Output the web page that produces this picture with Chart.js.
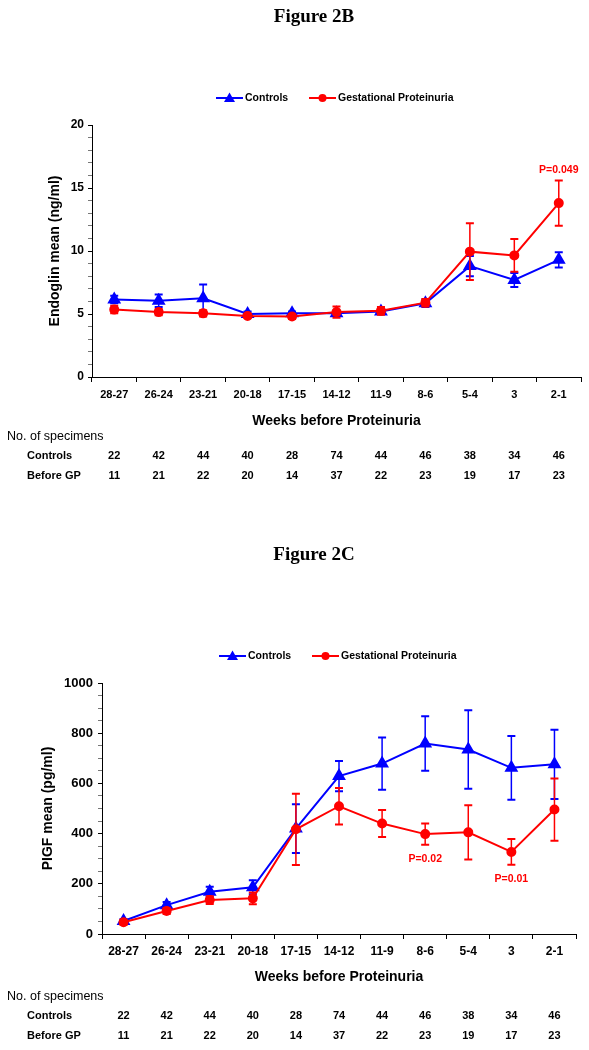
<!DOCTYPE html>
<html>
<head>
<meta charset="utf-8">
<script src="https://cdn.jsdelivr.net/npm/chart.js@4.4.0/dist/chart.umd.min.js"></script>
<style>
    html, body { margin: 0; padding: 0; background: #fff; }
    body { width: 589px; height: 1050px; position: relative; overflow: hidden; }
    .wrap { position: absolute; left: 0; width: 589px; }
    #wrap-b { top: 0; height: 500px; }
    #wrap-c { top: 500px; height: 550px; }
</style>
</head>
<body>
<div class="wrap" id="wrap-b"><canvas id="chart-2b"></canvas></div>
<div class="wrap" id="wrap-c"><canvas id="chart-2c"></canvas></div>
<script>
const weekLabels = ['28-27', '26-24', '23-21', '20-18', '17-15', '14-12', '11-9', '8-6', '5-4', '3', '2-1'];
const controlCounts = [22, 42, 44, 40, 28, 74, 44, 46, 38, 34, 46];
const gpCounts = [11, 21, 22, 20, 14, 37, 22, 23, 19, 17, 23];

// Figure 2B - endoglin (ng/ml), mean and error half-width
const endoglinControls = [6.15, 6.05, 6.25, 5.0, 5.05, 5.05, 5.2, 5.85, 8.8, 7.7, 9.3];
const endoglinControlsErr = [0.3, 0.5, 1.1, 0.2, 0.15, 0.2, 0.2, 0.3, 0.8, 0.55, 0.6];
const endoglinGP = [5.35, 5.15, 5.05, 4.85, 4.8, 5.15, 5.25, 5.9, 9.95, 9.65, 13.8];
const endoglinGPErr = [0.3, 0.25, 0.25, 0.15, 0.2, 0.45, 0.3, 0.3, 2.25, 1.3, 1.8];
const endoglinNotes = [{ index: 10, text: 'P=0.049', above: true }];

// Figure 2C - PlGF (pg/ml)
const plgfControls = [52, 115, 168, 186, 420, 629, 679, 759, 735, 662, 676];
const plgfControlsErr = [8, 12, 20, 28, 97, 60, 104, 109, 156, 127, 138];
const plgfGP = [47, 92, 135, 142, 417, 509, 440, 398, 405, 327, 496];
const plgfGPErr = [10, 12, 15, 23, 142, 73, 54, 42, 108, 51, 124];
const plgfNotes = [{ index: 7, text: 'P=0.02', above: false }, { index: 9, text: 'P=0.01', above: false }];

const SANS = "'Liberation Sans', Arial, sans-serif";
const SERIF = "'Liberation Serif', 'Times New Roman', serif";
const BLUE = '#0000ff';
const RED = '#ff0000';

const errorBars = {
    id: 'errorBars',
    beforeDatasetDraw(chart, args) {
        const ds = chart.data.datasets[args.index];
        if (!ds.errors) return;
        const { ctx, scales: { x, y } } = chart;
        ctx.save();
        ctx.strokeStyle = ds.borderColor;
        ds.data.forEach((v, i) => {
            const px = x.getPixelForValue(i);
            const top = y.getPixelForValue(v + ds.errors[i]);
            const bot = y.getPixelForValue(v - ds.errors[i]);
            ctx.lineWidth = 1.5;
            ctx.beginPath();
            ctx.moveTo(px, top);
            ctx.lineTo(px, bot);
            ctx.stroke();
            ctx.lineWidth = 2;
            ctx.beginPath();
            ctx.moveTo(px - 4, top); ctx.lineTo(px + 4, top);
            ctx.moveTo(px - 4, bot); ctx.lineTo(px + 4, bot);
            ctx.stroke();
        });
        ctx.restore();
    }
};

function drawMarker(ctx, style, cx, cy, color) {
    ctx.fillStyle = color;
    ctx.beginPath();
    if (style === 'triangle') {
        ctx.moveTo(cx, cy - 5.5);
        ctx.lineTo(cx + 5.5, cy + 4);
        ctx.lineTo(cx - 5.5, cy + 4);
        ctx.closePath();
    } else {
        ctx.arc(cx, cy, 4, 0, Math.PI * 2);
    }
    ctx.fill();
}

function extrasPlugin(cfg) {
    return {
        id: 'extras',
        afterDraw(chart) {
            const { ctx, scales: { x, y } } = chart;
            ctx.save();
            ctx.fillStyle = '#000';
            ctx.textAlign = 'center';
            ctx.textBaseline = 'middle';

            ctx.font = `bold 19px ${SERIF}`;
            ctx.fillText(cfg.title, 314, cfg.titleY);

            // legend: line + marker + label
            const lx = cfg.legendX;
            const ly = cfg.legendY;
            [[lx, 'triangle', BLUE, 'Controls'], [lx + 93, 'circle', RED, 'Gestational Proteinuria']].forEach(([sx, style, color, label]) => {
                ctx.strokeStyle = color;
                ctx.lineWidth = 2;
                ctx.beginPath();
                ctx.moveTo(sx, ly);
                ctx.lineTo(sx + 27, ly);
                ctx.stroke();
                drawMarker(ctx, style, sx + 13.5, ly, color);
                ctx.fillStyle = '#000';
                ctx.textAlign = 'left';
                ctx.font = `bold 10.5px ${SANS}`;
                ctx.fillText(label, sx + 29, ly);
            });

            // y axis title
            ctx.save();
            ctx.translate(cfg.yTitleX, (y.top + y.bottom) / 2);
            ctx.rotate(-Math.PI / 2);
            ctx.textAlign = 'center';
            ctx.font = `bold 14px ${SANS}`;
            ctx.fillText(cfg.yTitle, 0, 0);
            ctx.restore();

            // x axis title
            ctx.textAlign = 'center';
            ctx.font = `bold 14px ${SANS}`;
            ctx.fillText('Weeks before Proteinuria', (x.left + x.right) / 2, cfg.xTitleY);

            // specimen table
            ctx.textAlign = 'left';
            ctx.font = `12.5px ${SANS}`;
            ctx.fillText('No. of specimens', 7, cfg.tableY);
            ctx.font = `bold 11px ${SANS}`;
            ctx.fillText('Controls', 27, cfg.tableY + 19);
            ctx.fillText('Before GP', 27, cfg.tableY + 39);
            ctx.textAlign = 'center';
            controlCounts.forEach((n, i) => ctx.fillText(String(n), x.getPixelForValue(i), cfg.tableY + 19));
            gpCounts.forEach((n, i) => ctx.fillText(String(n), x.getPixelForValue(i), cfg.tableY + 39));

            // p-value notes next to the gestational proteinuria error bars
            const gp = chart.data.datasets[1];
            ctx.fillStyle = RED;
            ctx.font = `bold 10.5px ${SANS}`;
            cfg.notes.forEach(n => {
                const v = gp.data[n.index];
                const e = gp.errors[n.index];
                const px = x.getPixelForValue(n.index);
                const py = n.above ? y.getPixelForValue(v + e) - 10 : y.getPixelForValue(v - e) + 14;
                ctx.fillText(n.text, px, py);
            });
            ctx.restore();
        }
    };
}

function makeChart(id, cfg) {
    return new Chart(document.getElementById(id), {
        type: 'line',
        data: {
            labels: weekLabels,
            datasets: [{
                label: 'Controls',
                data: cfg.controls,
                errors: cfg.controlsErr,
                borderColor: BLUE,
                backgroundColor: BLUE,
                borderWidth: 2,
                pointStyle: 'triangle',
                pointRadius: 6,
                pointHoverRadius: 6,
                order: 1,
            }, {
                label: 'Gestational Proteinuria',
                data: cfg.gp,
                errors: cfg.gpErr,
                borderColor: RED,
                backgroundColor: RED,
                borderWidth: 2,
                pointStyle: 'circle',
                pointRadius: 4,
                pointHoverRadius: 4,
                order: 0,
            }]
        },
        options: {
            responsive: true,
            maintainAspectRatio: false,
            animation: false,
            layout: { padding: { top: cfg.top, right: cfg.right, bottom: 0, left: 0 } },
            plugins: { legend: { display: false }, tooltip: { enabled: false } },
            scales: {
                x: {
                    offset: true,
                    ticks: { color: '#000', font: { family: SANS, size: cfg.xFont, weight: 'bold' }, padding: cfg.xPad, maxRotation: 0, autoSkip: false },
                    grid: { offset: true, drawOnChartArea: false, tickLength: 5, color: '#000' },
                    border: { color: '#000', width: 1 },
                    afterFit: s => { s.height = cfg.xHeight; }
                },
                y: {
                    min: 0,
                    max: cfg.max,
                    ticks: {
                        stepSize: cfg.minorStep,
                        autoSkip: false,
                        color: '#000',
                        padding: cfg.yPad,
                        font: { family: SANS, size: cfg.yFont, weight: 'bold' },
                        callback: v => (v % cfg.majorStep === 0 ? v : '')
                    },
                    grid: {
                        drawOnChartArea: false,
                        tickLength: 4,
                        tickColor: c => (c.tick && c.tick.value % cfg.majorStep === 0 ? '#000' : '#777')
                    },
                    border: { color: '#000', width: 1 },
                    afterFit: s => { s.width = cfg.left; }
                }
            }
        },
        plugins: [errorBars, extrasPlugin(cfg)]
    });
}

makeChart('chart-2b', {
    controls: endoglinControls, controlsErr: endoglinControlsErr,
    gp: endoglinGP, gpErr: endoglinGPErr, notes: endoglinNotes,
    max: 20, majorStep: 5, minorStep: 1,
    top: 125, right: 8, left: 92, xHeight: 123,
    xFont: 11, xPad: 6, yFont: 12, yPad: 4,
    title: 'Figure 2B', titleY: 17,
    legendX: 216, legendY: 98,
    yTitle: 'Endoglin mean (ng/ml)', yTitleX: 55,
    xTitleY: 421, tableY: 437
});

makeChart('chart-2c', {
    controls: plgfControls, controlsErr: plgfControlsErr,
    gp: plgfGP, gpErr: plgfGPErr, notes: plgfNotes,
    max: 1000, majorStep: 200, minorStep: 50,
    top: 183, right: 13, left: 102, xHeight: 116,
    xFont: 12, xPad: 5, yFont: 13, yPad: 5,
    title: 'Figure 2C', titleY: 55,
    legendX: 219, legendY: 156,
    yTitle: 'PIGF mean (pg/ml)', yTitleX: 48,
    xTitleY: 477, tableY: 497
});
</script>
</body>
</html>
